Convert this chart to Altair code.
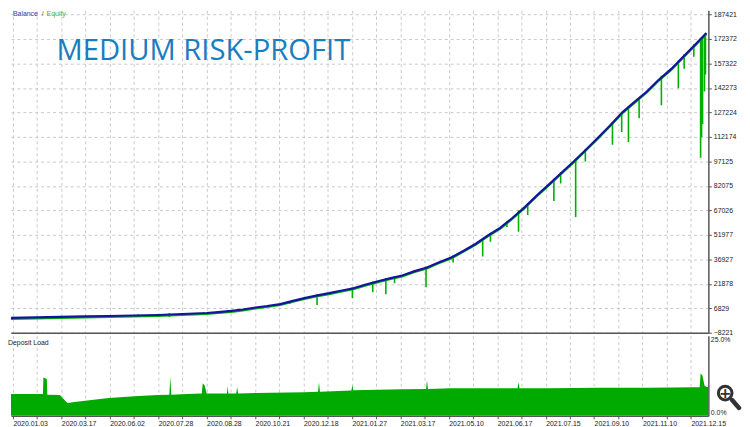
import json
import altair as alt
import pandas as pd

# ---------------- data ----------------
date_labels = ["2020.01.03", "2020.03.17", "2020.06.02", "2020.07.28", "2020.08.28",
               "2020.10.21", "2020.12.18", "2021.01.27", "2021.03.17", "2021.05.10",
               "2021.06.17", "2021.07.15", "2021.09.10", "2021.11.10", "2021.12.15"]
y_ticks = [-8221, 6829, 21878, 36927, 51977, 67026, 82075, 97125, 112174,
           127224, 142273, 157322, 172372, 187421]

# balance / equity (x = deal index)
bal_x = [0, 51, 101, 152, 202, 253, 303, 354, 404, 428, 455, 479, 505, 529, 556,
         580, 606, 630, 657, 681, 707, 731, 758, 782, 808, 832, 859, 883, 909, 933,
         960, 984, 1010, 1034, 1061, 1085, 1111, 1135, 1162, 1186, 1212, 1236, 1263,
         1287, 1313, 1337, 1364, 1388, 1414, 1436]
bal_y = [900, 1200, 1500, 1800, 2100, 2400, 2700, 3300, 3900, 4500, 5200, 6100,
         7300, 8200, 9400, 11200, 13100, 14600, 16100, 17600, 19100, 21300, 23400,
         25200, 27000, 29500, 31900, 35000, 38000, 41900, 46500, 51400, 56200, 62000,
         69000, 76000, 83000, 89700, 97000, 104000, 111600, 118900, 127400, 133500,
         140100, 147100, 154100, 161400, 169300, 176000]
eq_y = [300, 600, 900, 1200, 1500, 1800, 2100, 2700, 3300, 3900, 4600, 5500,
        6700, 7600, 8800, 10600, 12500, 14000, 15500, 17000, 18500, 20700, 22800,
        24600, 26400, 28900, 31300, 34400, 37400, 41300, 45900, 50800, 55600, 61400,
        68400, 75400, 82400, 89100, 96400, 103400, 111000, 118300, 126800, 132900,
        139500, 146500, 153500, 160800, 168700, 175400]

spike_x = [71, 263, 327, 398, 448, 467, 576, 632, 705, 747, 774, 792, 857, 913, 974,
           990, 1024, 1048, 1067, 1121, 1135, 1166, 1186, 1242, 1261, 1275, 1297,
           1343, 1378, 1390, 1410, 1424, 1426, 1428, 1432, 1434]
spike_top = [2000, 3200, 3700, 4600, 5800, 6400, 11200, 15500, 19800, 23300, 25400,
             26700, 32500, 39300, 49100, 53300, 60300, 67100, 71400, 86500, 90500,
             98800, 104800, 121300, 127300, 130800, 136300, 149800, 159200, 162900,
             169100, 173000, 173500, 173500, 175000, 176000]
spike_low = [300, 1500, 1500, 2700, 3900, 4500, 9400, 8800, 13100, 16700, 15500,
             22200, 19800, 35000, 38600, 47700, 56800, 53800, 64100, 72700, 83600,
             62900, 97000, 107300, 115200, 109100, 123700, 131600, 142000, 154100,
             161400, 99400, 112000, 120100, 140000, 150500]

# deposit load, %
load_x = [0, 61, 66, 67, 74, 75, 101, 111, 117, 131, 162, 202, 263, 303, 327, 329,
          331, 364, 394, 396, 400, 404, 446, 447, 449, 465, 467, 469, 505, 606, 634,
          636, 638, 703, 705, 707, 808, 857, 859, 861, 909, 1046, 1048, 1050, 1111,
          1212, 1313, 1414, 1422, 1424, 1428, 1432, 1436, 1440]
load_y = [6.8, 6.8, 6.8, 12.0, 11.5, 6.6, 6.5, 4.9, 4.0, 4.3, 4.9, 5.6, 6.2, 6.5,
          6.6, 12.3, 6.6, 6.8, 7.0, 10.2, 9.5, 7.0, 7.0, 9.3, 7.0, 7.0, 9.0, 7.0,
          7.1, 7.4, 7.5, 10.5, 7.5, 7.9, 9.6, 8.0, 8.3, 8.4, 11.1, 8.4, 8.6, 8.6,
          10.5, 8.6, 8.6, 8.8, 8.8, 8.9, 8.9, 13.3, 12.5, 9.5, 9.0, 9.0]

# ---------------- tables ----------------
bal_df = pd.DataFrame({"x": bal_x, "balance": bal_y, "equity": eq_y})
spk_df = pd.DataFrame({"x": spike_x, "top": spike_top, "low": spike_low})
load_df = pd.DataFrame({"x": load_x, "load": load_y})

W = 705
H_MAIN = 326
H_LOAD = 81
FONT = "Liberation Sans"
GRID = "#c8c8c8"
AXIS_COL = "#555555"
BLUE = "#1414a0"
GREEN = "#00b000"

grid_vals = [4 + 50 * k for k in range(29)]
xscale = alt.Scale(domain=[0, 1440], nice=False, zero=False)
yscale = alt.Scale(domain=[-8221, 190007], nice=False, zero=False)

label_expr = ("(datum.value - 4) % 100 == 0 ? " + json.dumps(date_labels) +
              "[(datum.value - 4) / 100] : ''")

x_main_axis = alt.Axis(values=grid_vals, tickCount=len(grid_vals), labels=False,
                       ticks=False, grid=True, gridDash=[3, 3], gridColor=GRID,
                       domainColor=AXIS_COL, domainWidth=1.5, title=None)
y_main_axis = alt.Axis(orient="right", values=y_ticks, tickCount=len(y_ticks),
                       format="d", grid=True,
                       gridDash=[3, 3], gridColor=GRID, domainColor=AXIS_COL,
                       domainWidth=1.5, tickSize=3, tickColor=AXIS_COL,
                       labelFont=FONT, labelFontSize=7, labelColor="#222222",
                       labelPadding=2, labelOverlap=False, labelFlush=False,
                       title=None)

base = alt.Chart(bal_df)
eq_line = base.mark_line(color=GREEN, strokeWidth=2, clip=True).encode(
    x=alt.X("x:Q", scale=xscale, axis=x_main_axis),
    y=alt.Y("equity:Q", scale=yscale, axis=y_main_axis),
)
spikes = alt.Chart(spk_df).mark_rule(color=GREEN, strokeWidth=1.6, clip=True).encode(
    x=alt.X("x:Q", scale=xscale),
    y=alt.Y("top:Q", scale=yscale),
    y2="low:Q",
)
bal_line = base.mark_line(color=BLUE, strokeWidth=2.2, clip=True).encode(
    x=alt.X("x:Q", scale=xscale),
    y=alt.Y("balance:Q", scale=yscale),
)
title_df = pd.DataFrame({"t": ["MEDIUM RISK-PROFIT"]})
title = alt.Chart(title_df).mark_text(
    font="Open Sans", fontSize=29.5, color="#1a7dc0", align="left", baseline="middle"
).encode(x=alt.value(46), y=alt.value(41), text="t:N")

leg_df = pd.DataFrame({"t": ["Balance", "/", "Equity"],
                       "px": [2, 31, 36],
                       "c": ["#3b3bb0", "#666666", "#33bb33"]})
legend = alt.Chart(leg_df).mark_text(
    font=FONT, fontSize=7, align="left", baseline="middle"
).encode(x=alt.X("px:Q", scale=None), y=alt.value(4), text="t:N",
         color=alt.Color("c:N", scale=None))

main = alt.layer(eq_line, spikes, bal_line, title, legend).properties(
    width=W, height=H_MAIN)

x_load_axis = alt.Axis(values=grid_vals, tickCount=len(grid_vals),
                       labelExpr=label_expr, labelAlign="left",
                       labelFont=FONT, labelFontSize=7, labelColor="#222222",
                       labelPadding=1, labelOverlap=False, labelFlush=False,
                       grid=True, gridDash=[3, 3], gridColor=GRID,
                       ticks=True, tickSize=3, tickColor=AXIS_COL,
                       domainColor=AXIS_COL, domainWidth=1.5, title=None)
y_load_axis = alt.Axis(orient="right", values=[0, 25], tickCount=2,
                       labelExpr="format(datum.value, '.1f') + '%'",
                       labelBaseline={"condition": {"test": "datum.value > 12", "value": "top"},
                                      "value": "bottom"},
                       labelFont=FONT, labelFontSize=7, labelColor="#222222",
                       labelPadding=2, labelOverlap=False, grid=False, ticks=False,
                       domainColor=AXIS_COL, domainWidth=1.5, title=None)

load_area = alt.Chart(load_df).mark_area(color="#00aa00", clip=True).encode(
    x=alt.X("x:Q", scale=xscale, axis=x_load_axis),
    y=alt.Y("load:Q", scale=alt.Scale(domain=[0, 25], nice=False), axis=y_load_axis),
)
dl_df = pd.DataFrame({"t": ["Deposit Load"]})
dl_text = alt.Chart(dl_df).mark_text(
    font=FONT, fontSize=7, color="#222222", align="left", baseline="middle"
).encode(x=alt.value(-3), y=alt.value(7), text="t:N")

icon_df = pd.DataFrame({"k": ["icon"]})
icon_circle = alt.Chart(icon_df).mark_point(
    shape="circle", size=190, filled=True, fill="white", stroke="#333333",
    strokeWidth=3, opacity=1
).encode(x=alt.value(722), y=alt.value(58))
icon_handle = alt.Chart(icon_df).mark_rule(
    color="#333333", strokeWidth=4.5, strokeCap="round"
).encode(x=alt.value(729), x2=alt.value(736), y=alt.value(65), y2=alt.value(73))
icon_plus = alt.Chart(icon_df).mark_text(
    text="+", font="DejaVu Sans", fontSize=15, fontWeight="bold", color="#333333",
    align="center", baseline="middle"
).encode(x=alt.value(722), y=alt.value(58))

lower = alt.layer(load_area, dl_text, icon_circle, icon_handle, icon_plus).properties(
    width=W, height=H_LOAD)

chart = alt.vconcat(main, lower, spacing=0).properties(
    padding=0, background="white"
).configure_view(stroke=None)

chart.save("out.html", embed_options={"renderer": "svg", "actions": False})
